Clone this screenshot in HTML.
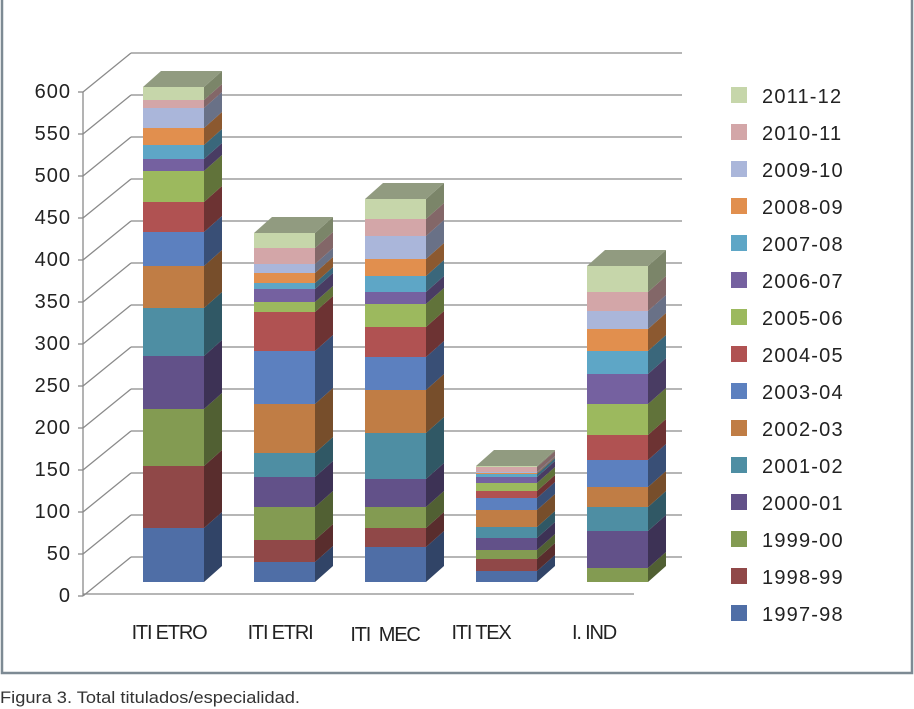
<!DOCTYPE html>
<html><head><meta charset="utf-8"><style>
html,body{margin:0;padding:0;background:#fff;}
svg{display:block;font-family:"Liberation Sans",Arial,sans-serif;}
</style></head><body>
<svg id="s" width="914" height="709" viewBox="0 0 914 709" xmlns="http://www.w3.org/2000/svg">
<rect x="0" y="0" width="914" height="709" fill="#fff"/>
<polyline points="2,0 2,673 912,673 912,0" fill="none" stroke="#7d8a94" stroke-width="2.5"/>
<g id="grid" stroke="#8a8a8a" stroke-width="1.3" fill="none"></g>
<g id="bars"></g>
<g font-size="20" fill="#222" text-anchor="end" letter-spacing="1">
<text x="71" y="98">600</text><text x="71" y="140">550</text><text x="71" y="182">500</text>
<text x="71" y="224">450</text><text x="71" y="266">400</text><text x="71" y="308">350</text>
<text x="71" y="350">300</text><text x="71" y="392">250</text><text x="71" y="434">200</text>
<text x="71" y="476">150</text><text x="71" y="518">100</text><text x="71" y="560">50</text>
<text x="71" y="602">0</text>
</g>
<g font-size="20" fill="#222" letter-spacing="-1.2" text-anchor="middle">
<text x="169" y="639">ITI ETRO</text>
<text x="280" y="639">ITI ETRI</text>
<text x="385" y="641" style="white-space:pre">ITI  MEC</text>
<text x="481" y="639">ITI TEX</text>
<text x="594" y="639">I. IND</text>
</g>
<g id="leg" font-size="20" fill="#222" letter-spacing="1.2">
<text x="762" y="103">2011-12</text><text x="762" y="140">2010-11</text><text x="762" y="177">2009-10</text>
<text x="762" y="214">2008-09</text><text x="762" y="251">2007-08</text><text x="762" y="288">2006-07</text>
<text x="762" y="325">2005-06</text><text x="762" y="362">2004-05</text><text x="762" y="399">2003-04</text>
<text x="762" y="436">2002-03</text><text x="762" y="473">2001-02</text><text x="762" y="510">2000-01</text>
<text x="762" y="547">1999-00</text><text x="762" y="584">1998-99</text><text x="762" y="621">1997-98</text>
</g>
<text x="0" y="703" font-size="17" fill="#333" textLength="300" lengthAdjust="spacingAndGlyphs">Figura 3. Total titulados/especialidad.</text>
</svg>
<script>
var NS="http://www.w3.org/2000/svg";
function el(p,t,a){var e=document.createElementNS(NS,t);for(var k in a)e.setAttribute(k,a[k]);p.appendChild(e);return e;}
var g=document.getElementById("grid");
for(var k=0;k<=12;k++){var fy=92+42*k,by=53+42*k;
 el(g,"line",{x1:83,y1:fy,x2:131,y2:by});
 el(g,"line",{x1:131,y1:by,x2:682,y2:by});
 el(g,"line",{x1:78,y1:fy,x2:83,y2:fy});}
el(g,"line",{x1:83,y1:92,x2:83,y2:596});
el(g,"line",{x1:83,y1:594,x2:634,y2:594});
var cols=["#4f6ea6","#904848","#839b52","#625189","#4e8ea3","#c07d45","#5c80bf","#b05252","#9cb95e","#7561a0","#5ea6c6","#e18f4e","#aab6da","#d3a6a8","#c6d6aa"];
function dark(c){var n=parseInt(c.slice(1),16),r=(n>>16)&255,gg=(n>>8)&255,b=n&255;
 return "rgb("+Math.round(r*.62)+","+Math.round(gg*.62)+","+Math.round(b*.62)+")";}
var data=[
 [143,[528,466,409,356,308,266,232,202,171,159,145,128,108,100,87]],
 [254,[562,540,507,477,453,404,351,312,302,289,283,273,264,248,233]],
 [365,[547,528,507,479,433,390,357,327,304,292,276,259,236,219,199]],
 [476,[571,559,550,538,527,510,498,491,483,477,474,473,472,467,466]],
 [587,[582,582,568,531,507,487,460,435,404,374,351,329,311,292,266]]];
var B=document.getElementById("bars"),W=61,DX=18,DY=16;
data.forEach(function(d){var x=d[0],prev=582;
 d[1].forEach(function(t,i){ if(prev-t>0){
  el(B,"rect",{x:x,y:t,width:W,height:prev-t,fill:cols[i]});
  el(B,"polygon",{points:(x+W)+","+prev+" "+(x+W+DX)+","+(prev-DY)+" "+(x+W+DX)+","+(t-DY)+" "+(x+W)+","+t,fill:dark(cols[i])});}
  prev=t;});
 el(B,"polygon",{points:x+","+prev+" "+(x+DX)+","+(prev-DY)+" "+(x+W+DX)+","+(prev-DY)+" "+(x+W)+","+prev,fill:"#919b80"});
});
var L=document.getElementById("leg");
for(var i=0;i<15;i++){el(L,"rect",{x:731,y:87+37*i,width:16,height:16,fill:cols[14-i]});}
</script>
</body></html>
